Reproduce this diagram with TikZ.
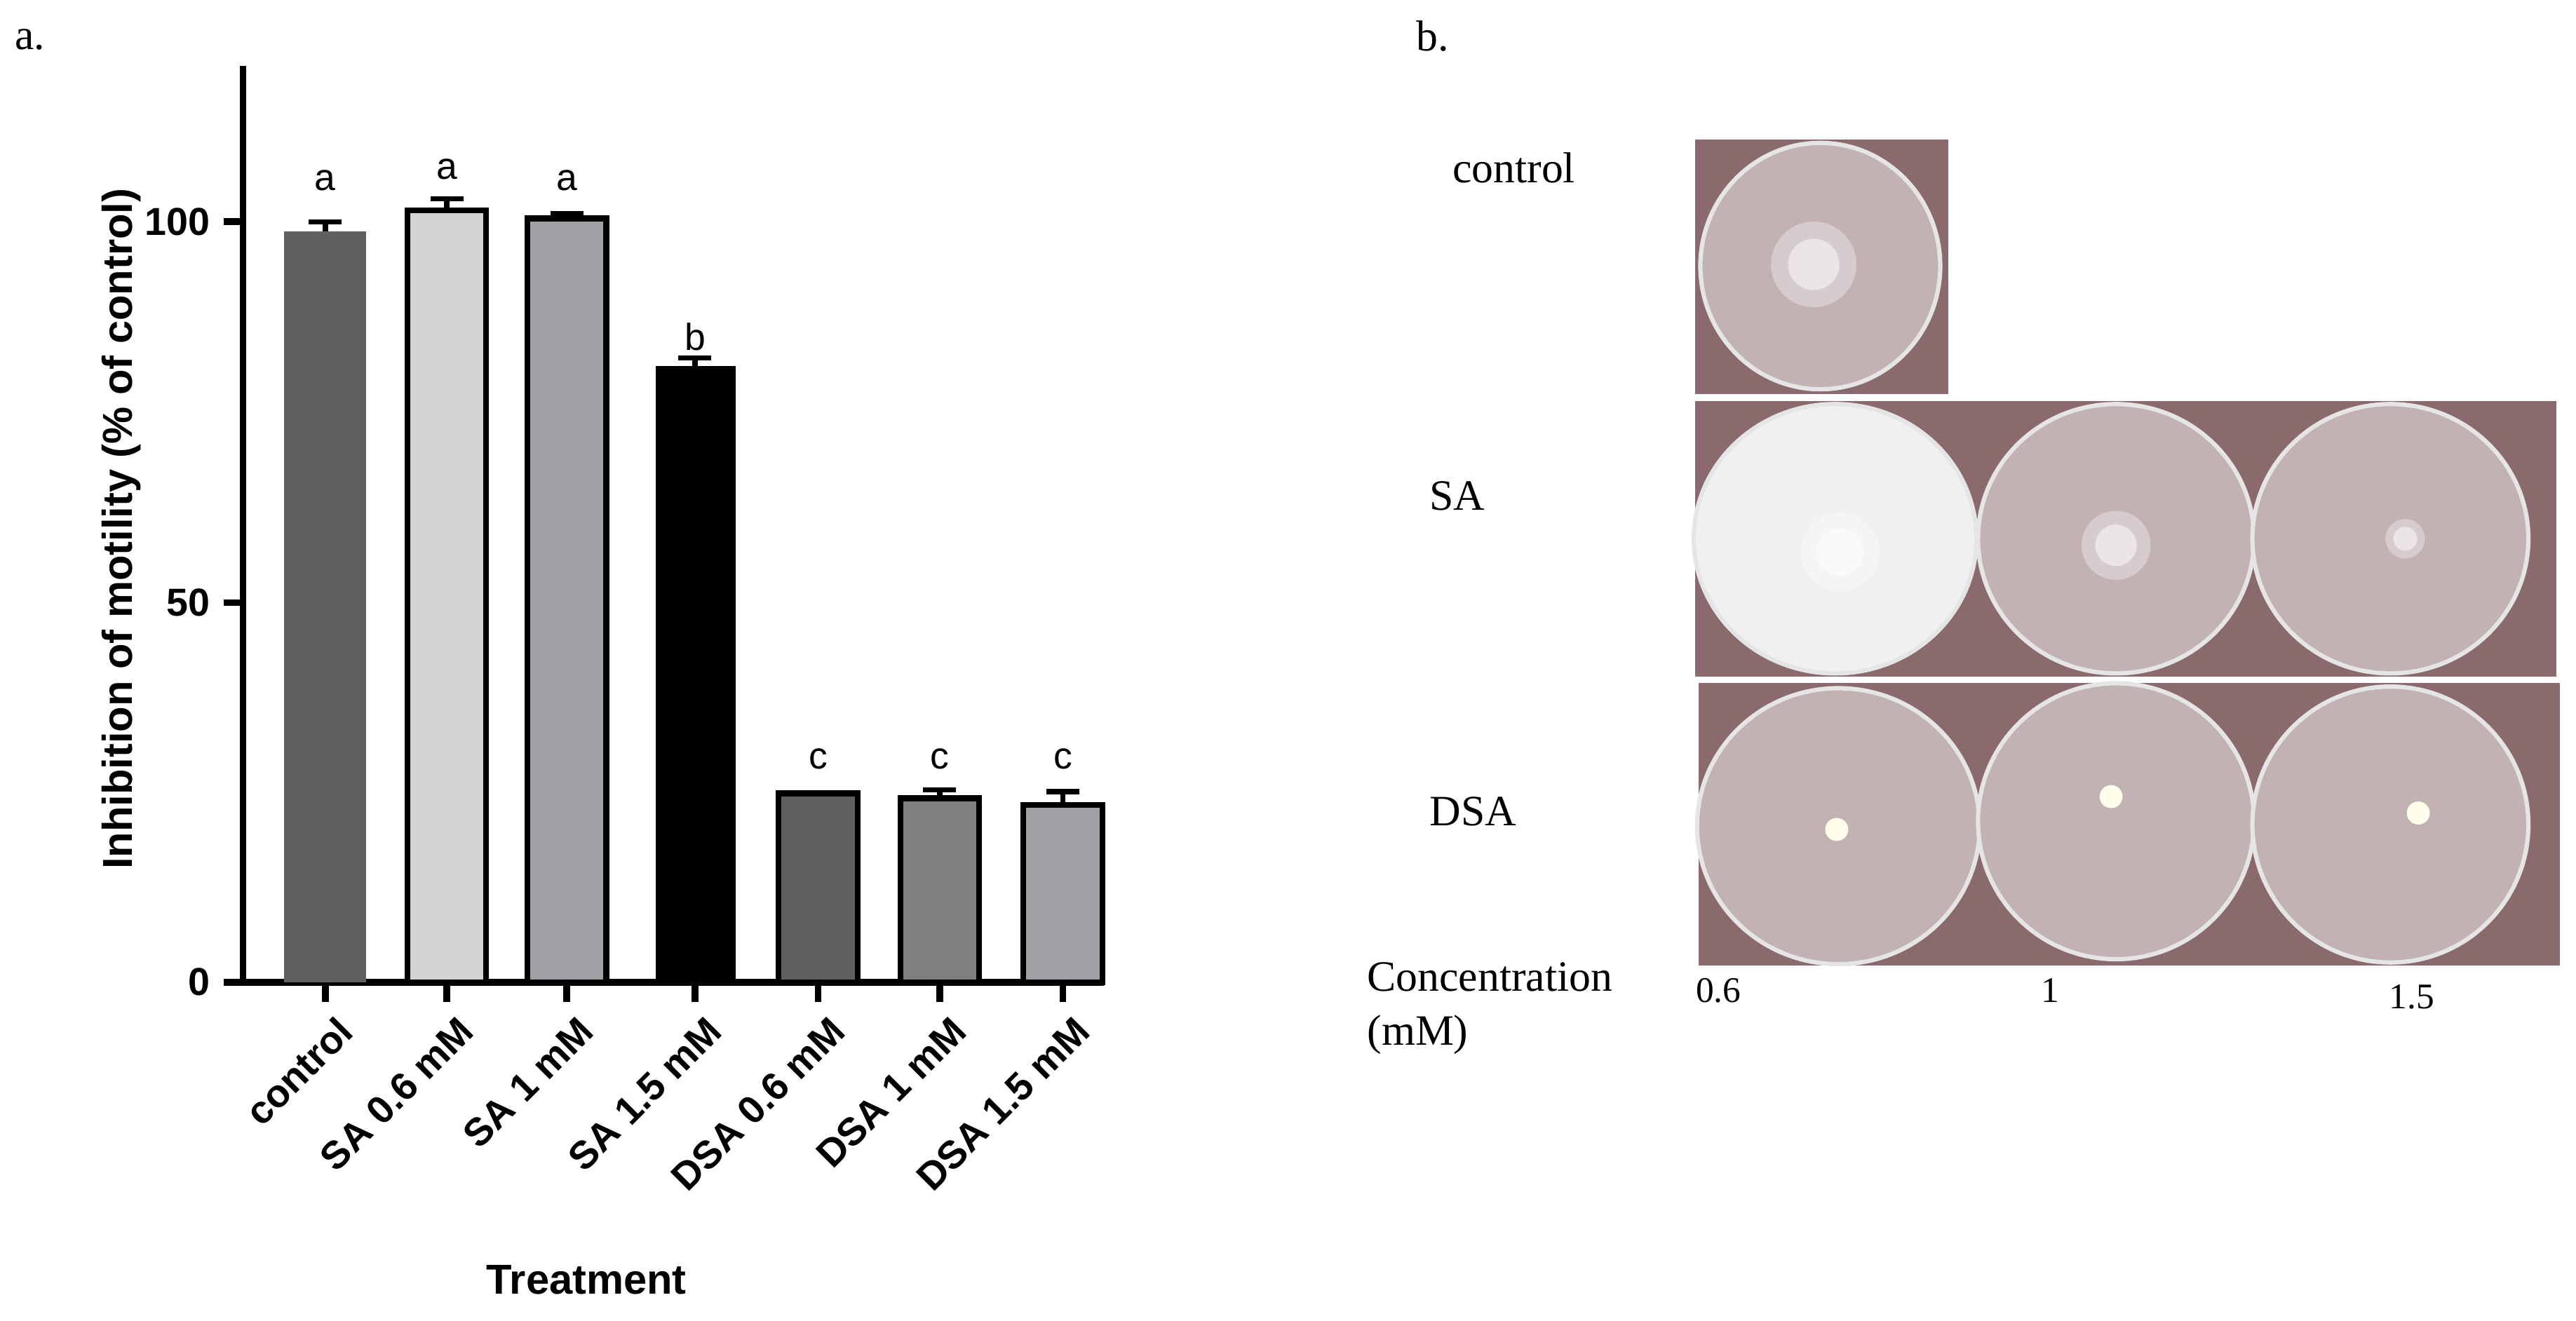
\documentclass[tikz,border=0pt]{standalone}
\usepackage{fontspec}
\setmainfont{Liberation Serif}
\setsansfont{Liberation Sans}
\begin{document}
\begin{tikzpicture}[x=0.02cm,y=-0.02cm,
  ax/.style={line width=2.3pt},
  bar/.style={draw=black,line width=2pt},
  err/.style={line width=1.8pt},
  lett/.style={font=\sffamily\fontsize{13}{13}\selectfont},
  tick/.style={font=\sffamily\bfseries\fontsize{13.5}{13.5}\selectfont},
  ser/.style={font=\fontsize{15}{17}\selectfont},
  dish/.style={fill=dishc,draw=white!80!gray,line width=1.5pt}]
\useasboundingbox (0,0) rectangle (1568,804);
\definecolor{dg}{HTML}{606060}
\definecolor{lg}{HTML}{D4D4D4}
\definecolor{mg}{HTML}{A0A0A5}
\definecolor{g2}{HTML}{7F7F7F}
\definecolor{bg}{HTML}{8A6A6C}
\definecolor{dishc}{HTML}{C2B2B3}
% axes
\draw[ax] (148,40) -- (148,598) -- (672,598);
\foreach \yy/\lab in {135/100,367/50,598/0}{
  \draw[ax] (136,\yy) -- (148,\yy);
  \node[tick,anchor=east] (t\lab) at (134,\yy) {\lab};}
\fill[dg] (173,598) rectangle (223,141);
\draw[err] (198,141) -- (198,135) (188,135) -- (208,135);
\draw[bar,fill=lg] (248,598) rectangle (296,128);
\draw[err] (272,128) -- (272,121) (262,121) -- (282,121);
\draw[bar,fill=mg] (321,598) rectangle (369,133);
\draw[err] (345,133) -- (345,130) (335,130) -- (355,130);
\fill[black] (399,598) rectangle (448,223);
\draw[err] (423,223) -- (423,218) (413,218) -- (433,218);
\draw[bar,fill=dg] (474,598) rectangle (522,483);
\draw[bar,fill=g2] (548,598) rectangle (596,486);
\draw[err] (572,486) -- (572,481) (562,481) -- (582,481);
\draw[bar,fill=mg] (623,598) rectangle (671,490);
\draw[err] (647,490) -- (647,482) (637,482) -- (657,482);
\foreach \x/\l/\yy in {198/a/110,272/a/103,345/a/110,423/b/205,498/c/462,572/c/462,647/c/462}
  \node[lett] (l\x) at (\x,\yy) {\l};
\foreach \x/\lab in {198/control,272/SA 0.6 mM,345/SA 1 mM,423/SA 1.5 mM,498/DSA 0.6 mM,572/DSA 1 mM,647/DSA 1.5 mM}{
  \draw[ax] (\x,598) -- (\x,610);
  \node[tick,anchor=north east,rotate=45,inner sep=0.5pt] (x\x) at (\x+6,616) {\lab};}
\node[font=\sffamily\bfseries\fontsize{14.5}{14.5}\selectfont] (tr) at (357,779) {Treatment};
\node[font=\sffamily\bfseries\fontsize{14.5}{14.5}\selectfont,rotate=90] (yl) at (74,322) {Inhibition of motility (\% of control)};
\node[ser,anchor=west] (pa) at (3,24) {a.};
\node[ser,anchor=west] (pb) at (856,22) {b.};
% photos
\fill[bg] (1032,85) rectangle (1186,240);
\fill[bg] (1032,244) rectangle (1556,412);
\fill[bg] (1034,416) rectangle (1558,588);
\draw[dish] (1108,162) ellipse (73 and 75);
\draw[dish,fill=white!88!gray] (1117,328) ellipse (86 and 82);
\draw[dish] (1288,328) ellipse (84 and 82);
\draw[dish] (1455,328) ellipse (84 and 82);
\draw[dish] (1119,503) ellipse (86 and 84);
\draw[dish] (1288,500) ellipse (84 and 84);
\draw[dish] (1455,502) ellipse (84 and 84);
\foreach \x/\yy/\r in {1104/161/26,1120/336/24,1288/332/21,1464/328/12}{
  \fill[white,opacity=0.35] (\x,\yy) circle (\r);
  \fill[white,opacity=0.5] (\x,\yy) circle (0.6*\r);}
\foreach \x/\yy in {1118/505,1285/485,1472/495}
  \fill[white!92!yellow] (\x,\yy) circle (7);
\node[ser,anchor=west] (c1) at (878,102) {control};
\node[ser,anchor=west] (c2) at (864,302) {SA};
\node[ser,anchor=west] (c3) at (864,494) {DSA};
\node[ser,anchor=west] (c4) at (826,595) {Concentration};
\node[ser,anchor=west] (c5) at (826,630) {(mM)};
\node[font=\fontsize{12.5}{12.5}\selectfont] (v1) at (1046,603) {0.6};
\node[font=\fontsize{12.5}{12.5}\selectfont] (v2) at (1248,603) {1};
\node[font=\fontsize{12.5}{12.5}\selectfont] (v3) at (1468,607) {1.5};
\end{tikzpicture}
\end{document}
